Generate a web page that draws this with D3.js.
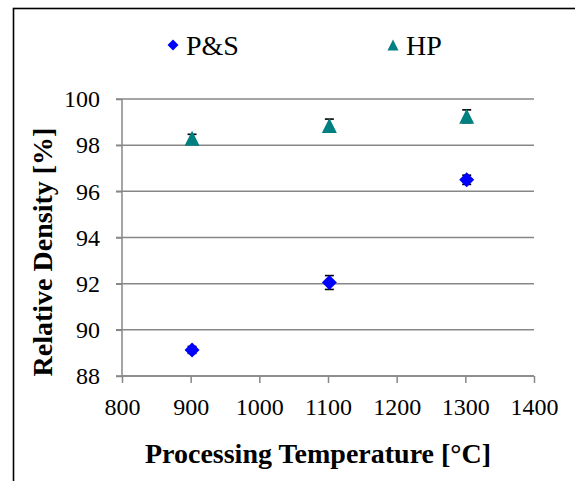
<!DOCTYPE html>
<html>
<head>
<meta charset="utf-8">
<script src="https://cdn.jsdelivr.net/npm/d3@7"></script>
<style>
  body { margin: 0; background: #fff; }
  svg { display: block; }
  text { font-family: "Liberation Serif", "Times New Roman", serif; }
</style>
</head>
<body>
<svg width="575" height="481"></svg>
<script>
// data
var temps = [902, 1102, 1302]
var psDensity = [89.13, 92.05, 96.5]
var psError = [0.15, 0.3, 0.2]
var hpDensity = [98.3, 98.85, 99.25]
var hpError = [0.17, 0.28, 0.28]
var xTicks = [800, 900, 1000, 1100, 1200, 1300, 1400]
var yTicks = [88, 90, 92, 94, 96, 98, 100]
var seriesNames = ["P&S", "HP"]

var plot = {left: 122, right: 534, top: 99, bottom: 376}
var gridColor = "#878787"
var serif = "Liberation Serif"

var svg = d3.select("svg")

// outer frame (runs past the right and bottom edges)
svg.append("rect")
  .attr("x", 13.5).attr("y", 8.5)
  .attr("width", 600).attr("height", 520)
  .attr("fill", "none")
  .attr("stroke", "#000")
  .attr("stroke-width", 1.6)

var xScale = d3.scaleLinear().domain([800, 1400]).range([plot.left, plot.right])
var yScale = d3.scaleLinear().domain([88, 100]).range([plot.bottom, plot.top])

// horizontal gridlines
svg.append("g")
  .selectAll("line")
  .data(yTicks)
  .enter()
  .append("line")
  .attr("x1", plot.left - 6)
  .attr("x2", plot.right)
  .attr("y1", function(d){ return yScale(d) })
  .attr("y2", function(d){ return yScale(d) })
  .attr("stroke", gridColor)
  .attr("stroke-width", 1.5)

// y axis
var yAxis = d3.axisLeft(yScale).tickValues(yTicks).tickFormat(d3.format("d")).tickSize(6).tickPadding(16)
var yg = svg.append("g")
  .attr("transform", "translate(" + plot.left + ",0)")
  .call(yAxis)

// x axis
var xAxis = d3.axisBottom(xScale).tickValues(xTicks).tickFormat(d3.format("d")).tickSize(7).tickPadding(15)
var xg = svg.append("g")
  .attr("transform", "translate(0," + plot.bottom + ")")
  .call(xAxis)

yg.attr("font-family", serif).attr("font-size", 24)
xg.attr("font-family", serif).attr("font-size", 24)
svg.selectAll(".domain").attr("stroke", gridColor).attr("stroke-width", 1.5)
svg.selectAll(".tick line").attr("stroke", gridColor).attr("stroke-width", 1.5)
svg.selectAll(".tick text").attr("fill", "#000")
yg.select(".domain").attr("d", "M0," + plot.top + "V" + plot.bottom)
xg.select(".domain").attr("d", "M" + plot.left + ",0H" + plot.right)

// marker shapes
var diamond = {
  draw: function(ctx, size) {
    var r = Math.sqrt(size) / 2
    ctx.moveTo(0, -r); ctx.lineTo(r, 0); ctx.lineTo(0, r); ctx.lineTo(-r, 0); ctx.closePath()
  }
}
var triangle = {
  draw: function(ctx, size) {
    var r = Math.sqrt(size) / 2
    ctx.moveTo(0, -r); ctx.lineTo(r, r); ctx.lineTo(-r, r); ctx.closePath()
  }
}

var drawSeries = function(values, errors, shape, color) {
  var pts = temps.map(function(t, i){ return {x: t, y: values[i], e: errors[i]} })
  var g = svg.append("g")
  var bars = g.selectAll(".err").data(pts).enter().append("g")
    .attr("stroke", "#000").attr("stroke-width", 1.6)
  bars.append("line")
    .attr("x1", function(d){ return xScale(d.x) })
    .attr("x2", function(d){ return xScale(d.x) })
    .attr("y1", function(d){ return yScale(d.y + d.e) })
    .attr("y2", function(d){ return yScale(d.y - d.e) })
  bars.append("line")
    .attr("x1", function(d){ return xScale(d.x) - 4.5 })
    .attr("x2", function(d){ return xScale(d.x) + 4.5 })
    .attr("y1", function(d){ return yScale(d.y + d.e) })
    .attr("y2", function(d){ return yScale(d.y + d.e) })
  bars.append("line")
    .attr("x1", function(d){ return xScale(d.x) - 4.5 })
    .attr("x2", function(d){ return xScale(d.x) + 4.5 })
    .attr("y1", function(d){ return yScale(d.y - d.e) })
    .attr("y2", function(d){ return yScale(d.y - d.e) })
  g.selectAll("path").data(pts).enter().append("path")
    .attr("d", d3.symbol().type(shape).size(225))
    .attr("transform", function(d){ return "translate(" + xScale(d.x) + "," + yScale(d.y) + ")" })
    .attr("fill", color)
}

drawSeries(psDensity, psError, diamond, "#0000ff")
drawSeries(hpDensity, hpError, triangle, "#008080")

// legend
var legend = [
  {name: seriesNames[0], shape: diamond, color: "#0000ff", x: 173, size: 121},
  {name: seriesNames[1], shape: triangle, color: "#008080", x: 393, size: 121}
]
var lg = svg.append("g").selectAll("g").data(legend).enter().append("g")
  .attr("transform", function(d){ return "translate(" + d.x + ",45)" })
lg.append("path")
  .attr("d", function(d){ return d3.symbol().type(d.shape).size(d.size)() })
  .attr("fill", function(d){ return d.color })
lg.append("text")
  .attr("x", 13)
  .attr("y", 10)
  .attr("font-family", serif)
  .attr("font-size", 28)
  .text(function(d){ return d.name })

// axis titles
svg.append("text")
  .attr("x", (143 + 493) / 2)
  .attr("y", 463)
  .attr("text-anchor", "middle")
  .attr("font-family", serif)
  .attr("font-size", 28)
  .attr("font-weight", "bold")
  .text("Processing Temperature [°C]")

svg.append("text")
  .attr("transform", "translate(52," + 252 + ") rotate(-90)")
  .attr("text-anchor", "middle")
  .attr("font-family", serif)
  .attr("font-size", 28)
  .attr("font-weight", "bold")
  .text("Relative Density [%]")
</script>
</body>
</html>
